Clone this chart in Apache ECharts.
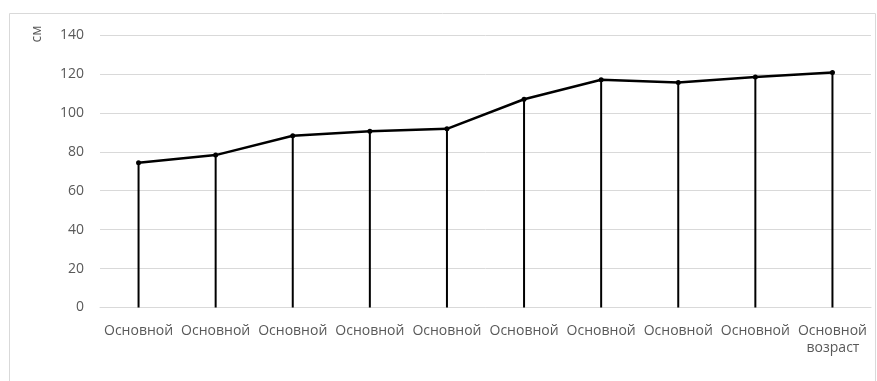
<!DOCTYPE html>
<html>
<head>
<meta charset="utf-8">
<script src="https://cdn.jsdelivr.net/npm/echarts@6/dist/echarts.min.js"></script>
<style>html,body{margin:0;padding:0;background:#fff;}#c{width:877px;height:381px;}</style>
</head>
<body>
<div id="c"></div>
<script>
const categories = ['Основной','Основной','Основной','Основной','Основной','Основной','Основной','Основной','Основной','Основной'];
const heights = [74.4, 78.3, 88.2, 90.6, 91.8, 107.0, 117.0, 115.6, 118.4, 120.7];
const yTicks = [0, 20, 40, 60, 80, 100, 120, 140];
const yName = 'см';
const xName = 'возраст';

const chart = echarts.init(document.getElementById('c'), null, {renderer: 'canvas'});
const font = 'Open Sans';
chart.setOption({
  animation: false,
  grid: {left: 100, right: 6, top: 35, bottom: 73.5},
  xAxis: {
    type: 'category',
    data: categories,
    axisLine: {show: true, lineStyle: {color: '#d9d9d9', width: 1}},
    axisTick: {show: false},
    axisLabel: {color: '#595959', fontFamily: font, fontSize: 14, margin: 17, interval: 0}
  },
  yAxis: {
    type: 'value',
    min: yTicks[0],
    max: yTicks[yTicks.length - 1],
    interval: 20,
    axisLine: {show: false},
    axisTick: {show: false},
    axisLabel: {color: '#595959', fontFamily: font, fontSize: 14, margin: 16},
    splitLine: {lineStyle: {color: '#d9d9d9', width: 1}}
  },
  series: [
    {
      type: 'bar',
      data: heights,
      barWidth: 2,
      itemStyle: {color: '#000'},
      z: 2
    },
    {
      type: 'line',
      data: heights,
      lineStyle: {color: '#000', width: 2.5},
      itemStyle: {color: '#000'},
      symbol: 'circle',
      symbolSize: 5,
      z: 3
    }
  ],
  graphic: [
    {type: 'rect', shape: {x: 9.5, y: 13.5, width: 866, height: 380}, style: {fill: 'none', stroke: '#d9d9d9', lineWidth: 1}, z: -1},
    {type: 'text', x: 37, y: 34, rotation: Math.PI / 2, style: {text: yName, fill: '#595959', font: '14px "Open Sans"', textAlign: 'center', textVerticalAlign: 'middle'}},
    {type: 'text', x: 833, y: 348, style: {text: xName, fill: '#595959', font: '14px "Open Sans"', textAlign: 'center', textVerticalAlign: 'middle'}}
  ]
});
</script>
</body>
</html>
